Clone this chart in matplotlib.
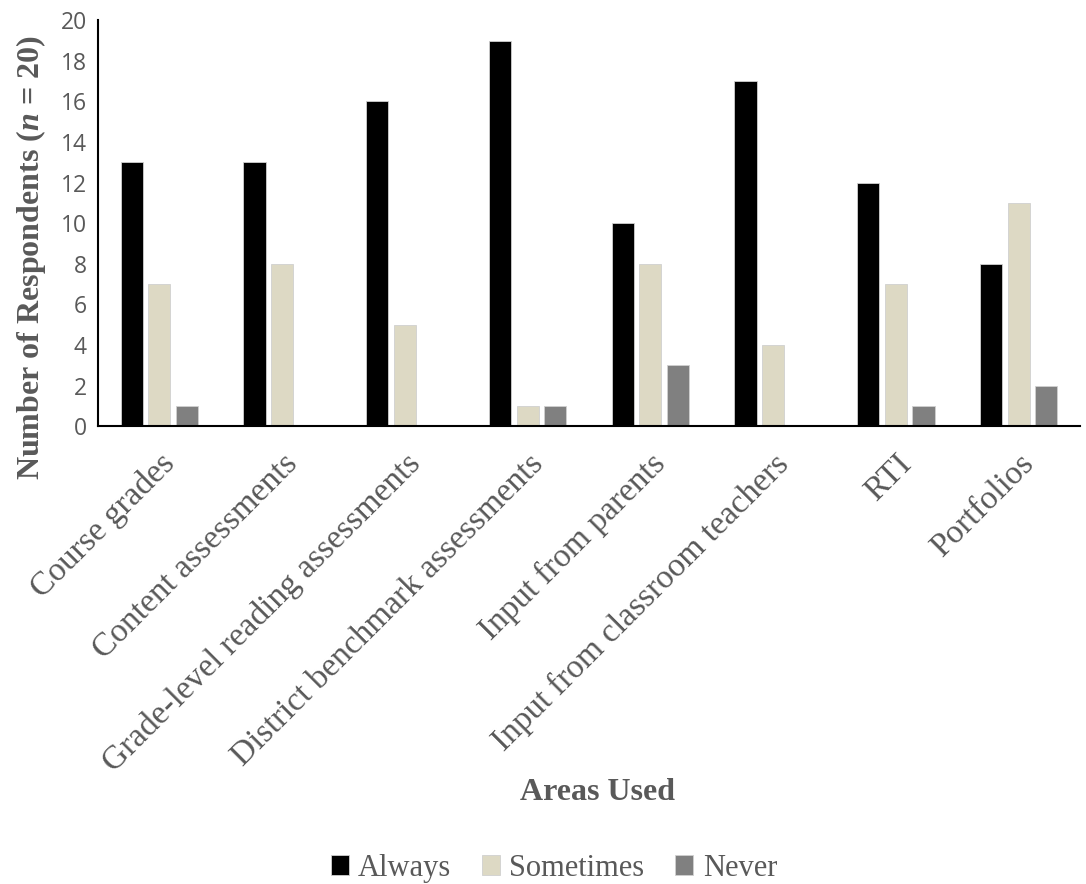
import numpy as np
import matplotlib.pyplot as plt

# Responses per area (n = 20)
areas = ["Course grades", "Content assessments", "Grade-level reading assessments",
         "District benchmark assessments", "Input from parents",
         "Input from classroom teachers", "RTI", "Portfolios"]
always = [13, 13, 16, 19, 10, 17, 12, 8]
sometimes = [7, 8, 5, 1, 8, 4, 7, 11]
never = [1, 0, 0, 1, 3, 0, 1, 2]

series = [("Always", always, "#000000"),
          ("Sometimes", sometimes, "#ddd9c4"),
          ("Never", never, "#808080")]

text_gray = "#595959"
serif = ["Liberation Serif", "DejaVu Serif"]
plt.rcParams["mathtext.fontset"] = "custom"
plt.rcParams["mathtext.bfit"] = "Liberation Serif:italic:bold"
plt.rcParams["mathtext.rm"] = "Liberation Serif:bold"

fig = plt.figure(figsize=(10.86, 8.84), dpi=100)
ax = fig.add_axes([0.0902, 0.518, 0.9043, 0.459])

x = np.arange(len(areas))
width = 0.18
step = 0.225
for k, (name, vals, color) in enumerate(series):
    ax.bar(x + (k - 1) * step, vals, width, color=color, label=name,
           edgecolor="#d0d0d0", linewidth=0.6)

ax.set_xlim(-0.5, len(areas) - 0.5)
ax.set_ylim(0, 20)
ax.set_yticks(range(0, 21, 2))
ax.tick_params(axis="y", length=0, labelsize=16.5, labelcolor=text_gray, pad=8)
for lbl in ax.get_yticklabels():
    lbl.set_family(["Open Sans", "DejaVu Sans"])
ax.set_xticks(x)
ax.set_xticklabels(areas, rotation=45, ha="right", rotation_mode="anchor",
                   fontsize=24, color=text_gray, family=serif)
ax.tick_params(axis="x", length=0, pad=16)

for side in ["top", "right"]:
    ax.spines[side].set_visible(False)
for side in ["left", "bottom"]:
    ax.spines[side].set_color("#000000")
    ax.spines[side].set_linewidth(1.5)

ax.set_ylabel(r"Number of Respondents ($\boldsymbol{n}$ = 20)", fontsize=23,
              fontweight="bold", color=text_gray, family=serif)
ax.yaxis.set_label_coords(-0.051, 0.415)

fig.text(0.5505, 0.103, "Areas Used", ha="center", va="center", fontsize=23,
         fontweight="bold", color=text_gray, family=serif)

leg = fig.legend(loc="center", bbox_to_anchor=(0.51, 0.018), ncol=3, frameon=False,
                 prop={"family": serif, "size": 22}, handlelength=0.6,
                 handleheight=0.6, handletextpad=0.3, columnspacing=1.0)
for t in leg.get_texts():
    t.set_color(text_gray)

fig.savefig("out.png", dpi=100)
